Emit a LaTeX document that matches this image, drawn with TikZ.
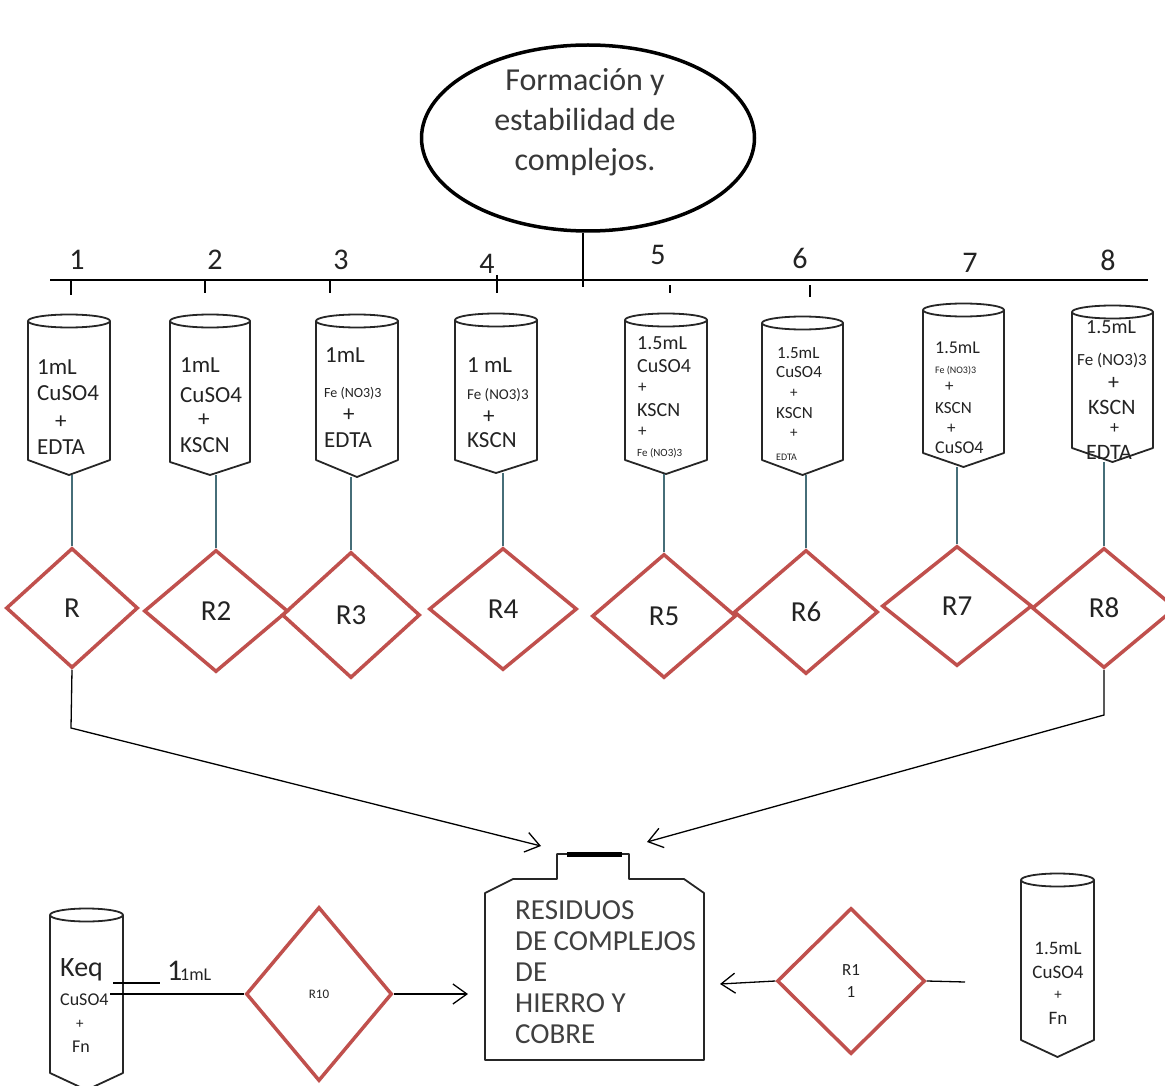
\documentclass[tikz,border=0pt]{standalone}
\usepackage{fontspec}
\setmainfont{Carlito}
\usetikzlibrary{shapes.geometric,arrows.meta}
\definecolor{rxred}{RGB}{192,80,77}
\definecolor{stemc}{RGB}{70,110,120}
\definecolor{ink}{RGB}{35,35,35}

% one line of text, left edge at (x,y)
\newcommand{\vtxt}[5]{\node[anchor=west,inner sep=0pt,text=ink,font=\fontsize{#4}{#4}\selectfont] (#1) at (#2,#3) {#5};}
% one line of text, centred at (x,y)
\newcommand{\ctxt}[5]{\node[anchor=center,inner sep=0pt,text=ink,font=\fontsize{#4}{#4}\selectfont] (#1) at (#2,#3) {#5};}
% test tube: name, left x, right x, rim y, side end y, bottom tip y
\newcommand{\drawvial}[6]{%
  \draw[tubeline] ({(#2+#3)/2},#4) ellipse ({(#3-#2)/2} and 6.5);
  \draw[tubeline] (#2,#4) -- (#2,#5) -- ({(#2+#3)/2},#6) -- (#3,#5) -- (#3,#4);
  \coordinate (#1-bot) at ({(#2+#3)/2},#6);
}

\begin{document}
\begin{tikzpicture}[x=1pt,y=-1pt,
  tubeline/.style={draw=black!85,line width=1.8pt,line join=round},
  rx/.style={diamond,draw=rxred,line width=3.5pt,inner sep=0pt,text=ink,
             font=\fontsize{29}{29}\selectfont},
  stemline/.style={draw=stemc,line width=1.2pt},
  bar/.style={draw=black,line width=1.5pt},
  flow/.style={draw=black,line width=1.3pt,
               -{Straight Barb[length=14pt,width=20pt,line width=1.3pt]}},
  num/.style={inner sep=0pt,text=ink,font=\fontsize{30}{30}\selectfont},
]
\useasboundingbox (0,0) rectangle (1165,1086);

% title
\node[ellipse,draw=black,line width=3.5pt,minimum width=333pt,minimum height=186pt] (topic) at (588,138) {};
\node[align=center,text=black!78,inner sep=0pt,font=\fontsize{32}{40}\selectfont] (topictext) at (585,122)
  {Formación y\\estabilidad de\\complejos.};

% distribution bar
\coordinate (barL) at (50,280);
\coordinate (barR) at (1148,280);
\coordinate (barM) at (583,287);
\draw[bar] (barL) -- (barR);
\draw[bar] (topic.south -| barM) -- (barM);
\foreach \x/\a/\b in {71/280/295,205/280/293,330/280/293,497/275/293,670/285/293,810/285/297}
  \draw[bar] (\x,\a) -- (\x,\b);

% tube numbers
\node[num] (n1) at (77,260) {1};
\node[num] (n2) at (215,260) {2};
\node[num] (n3) at (341,260) {3};
\node[num] (n4) at (487,264) {4};
\node[num] (n5) at (658,255) {5};
\node[num] (n6) at (800,258) {6};
\node[num] (n7) at (970,263) {7};
\node[num] (n8) at (1108,260) {8};

% test tubes
\drawvial{t1}{28}{110}{321}{460}{475}
\drawvial{t2}{170}{250}{321}{462}{475}
\drawvial{t3}{316}{398}{321}{460}{477}
\drawvial{t4}{455}{537}{320}{460}{473}
\drawvial{t5}{625}{707}{320}{460}{474}
\drawvial{t6}{762}{843}{323}{460}{475}
\drawvial{t7}{923}{1004}{310}{453}{467}
\drawvial{t8}{1072}{1153}{312}{448}{462}

% tube contents
\vtxt{a1}{37}{367}{23}{1mL}
\vtxt{a2}{37}{393}{23}{CuSO4}
\vtxt{a3}{55}{422}{23}{+}
\vtxt{a4}{37}{447}{23}{EDTA}

\vtxt{b1}{180}{365}{23}{1mL}
\vtxt{b2}{180}{395}{23}{CuSO4}
\vtxt{b3}{198}{420}{23}{+}
\vtxt{b4}{180}{445}{23}{KSCN}

\vtxt{c1}{325}{355}{23}{1mL}
\vtxt{c2}{324}{393}{14}{Fe (NO3)3}
\vtxt{c3}{343}{415}{23}{+}
\vtxt{c4}{324}{440}{23}{EDTA}

\vtxt{d1}{467}{365}{23}{1 mL}
\vtxt{d2}{467}{395}{15}{Fe (NO3)3}
\vtxt{d3}{483}{417}{23}{+}
\vtxt{d4}{467}{440}{23}{KSCN}

\vtxt{e1}{637}{343}{20}{1.5mL}
\vtxt{e2}{637}{366}{20}{CuSO4}
\vtxt{e3}{638}{388}{17}{+}
\vtxt{e4}{637}{410}{20}{KSCN}
\vtxt{e5}{638}{432}{17}{+}
\vtxt{e6}{637}{453}{11}{Fe (NO3)3}

\vtxt{f1}{777}{353}{17}{1.5mL}
\vtxt{f2}{776}{372}{17}{CuSO4}
\vtxt{f3}{790}{393}{15}{+}
\vtxt{f4}{776}{413}{17}{KSCN}
\vtxt{f5}{790}{433}{15}{+}
\vtxt{f6}{776}{457}{10}{EDTA}

\vtxt{g1}{935}{348}{18}{1.5mL}
\vtxt{g2}{935}{371}{10}{Fe (NO3)3}
\vtxt{g3}{945}{387}{17}{+}
\vtxt{g4}{935}{408}{17}{KSCN}
\vtxt{g5}{947}{429}{17}{+}
\vtxt{g6}{935}{448}{18}{CuSO4}

\vtxt{h1}{1086}{327}{20}{1.5mL}
\vtxt{h2}{1077}{360}{17}{Fe (NO3)3}
\vtxt{h3}{1108}{383}{22}{+}
\vtxt{h4}{1088}{407}{22}{KSCN}
\vtxt{h5}{1110}{429}{18}{+}
\vtxt{h6}{1086}{452}{22}{EDTA}

% reactions
\node[rx,minimum width=132pt,minimum height=120pt] (R) at (72,608) {R};
\node[rx,minimum width=144pt,minimum height=122pt] (R2) at (216,611) {R2};
\node[rx,minimum width=138pt,minimum height=126pt] (R3) at (351,615) {R3};
\node[rx,minimum width=148pt,minimum height=122pt] (R4) at (503,609) {R4};
\node[rx,minimum width=144pt,minimum height=124pt] (R5) at (664,616) {R5};
\node[rx,minimum width=144pt,minimum height=124pt] (R6) at (806,612) {R6};
\node[rx,minimum width=150pt,minimum height=120pt] (R7) at (957,606) {R7};
\node[rx,minimum width=144pt,minimum height=120pt] (R8) at (1104,608) {R8};

% stems from tubes to reactions
\foreach \r/\t in {R/t1,R2/t2,R3/t3,R4/t4,R5/t5,R6/t6,R7/t7,R8/t8}
  \draw[stemline] (\r.north) -- (\r.north |- \t-bot);

% waste container
\draw[tubeline] (485,1060) -- (485,893) -- (513,879) -- (557,879) -- (557,854)
  -- (629,854) -- (629,879) -- (684,879) -- (704,893) -- (704,1060) -- cycle;
\draw[black,line width=5pt] (567,854) -- (622,854);
\node[anchor=north west,align=left,inner sep=0pt,text=black!75,
      font=\fontsize{29}{31}\selectfont] (waste) at (515,900)
  {RESIDUOS\\DE COMPLEJOS\\DE\\HIERRO Y\\COBRE};

% collected residues
\coordinate (bendL) at (71,728);
\coordinate (bendR) at (1104,715);
\coordinate (tipL) at (541,846);
\coordinate (tipR) at (647,842);
\draw[flow] (R.south) -- (bendL) -- (tipL);
\draw[flow] (R8.south) -- (bendR) -- (tipR);

% equilibrium tube, lower left
\drawvial{tk}{50}{123}{915}{1073}{1090}
\vtxt{k1}{60}{970}{28}{Keq}
\vtxt{k2}{60}{1000}{18}{CuSO4}
\vtxt{k3}{76}{1024}{15}{+}
\vtxt{k4}{72}{1047}{18}{Fn}
\vtxt{k5}{167}{971}{30}{1}
\vtxt{k6}{180}{975}{18}{1mL}
\coordinate (dashA) at (113,983);
\coordinate (dashB) at (160,983);
\draw[black,line width=1.3pt] (dashA) -- (dashB);
\coordinate (tkout) at (110,994);
\node[rx,minimum width=146pt,minimum height=174pt,font=\fontsize{13}{13}\selectfont] (R10) at (319,994) {R10};
\coordinate (tipW) at (468,994);
\draw[black,line width=1.3pt] (tkout) -- (R10.west);
\draw[flow] (R10.east) -- (tipW);

% right-hand tube and reaction
\drawvial{tr}{1021}{1094}{880}{1040}{1057}
\ctxt{m1}{1058}{948}{19}{1.5mL}
\ctxt{m2}{1058}{972}{19}{CuSO4}
\ctxt{m3}{1058}{995}{15}{+}
\ctxt{m4}{1058}{1018}{19}{Fn}
\node[rx,minimum width=148pt,minimum height=146pt,align=center,
      font=\fontsize{17}{22}\selectfont] (R11) at (851,981) {R1\\1};
\coordinate (tipE) at (720,984);
\coordinate (trin) at (965,982);
\draw[flow] (R11.west) -- (tipE);
\draw[black,line width=1.3pt] (R11.east) -- (trin);
\end{tikzpicture}
\end{document}
